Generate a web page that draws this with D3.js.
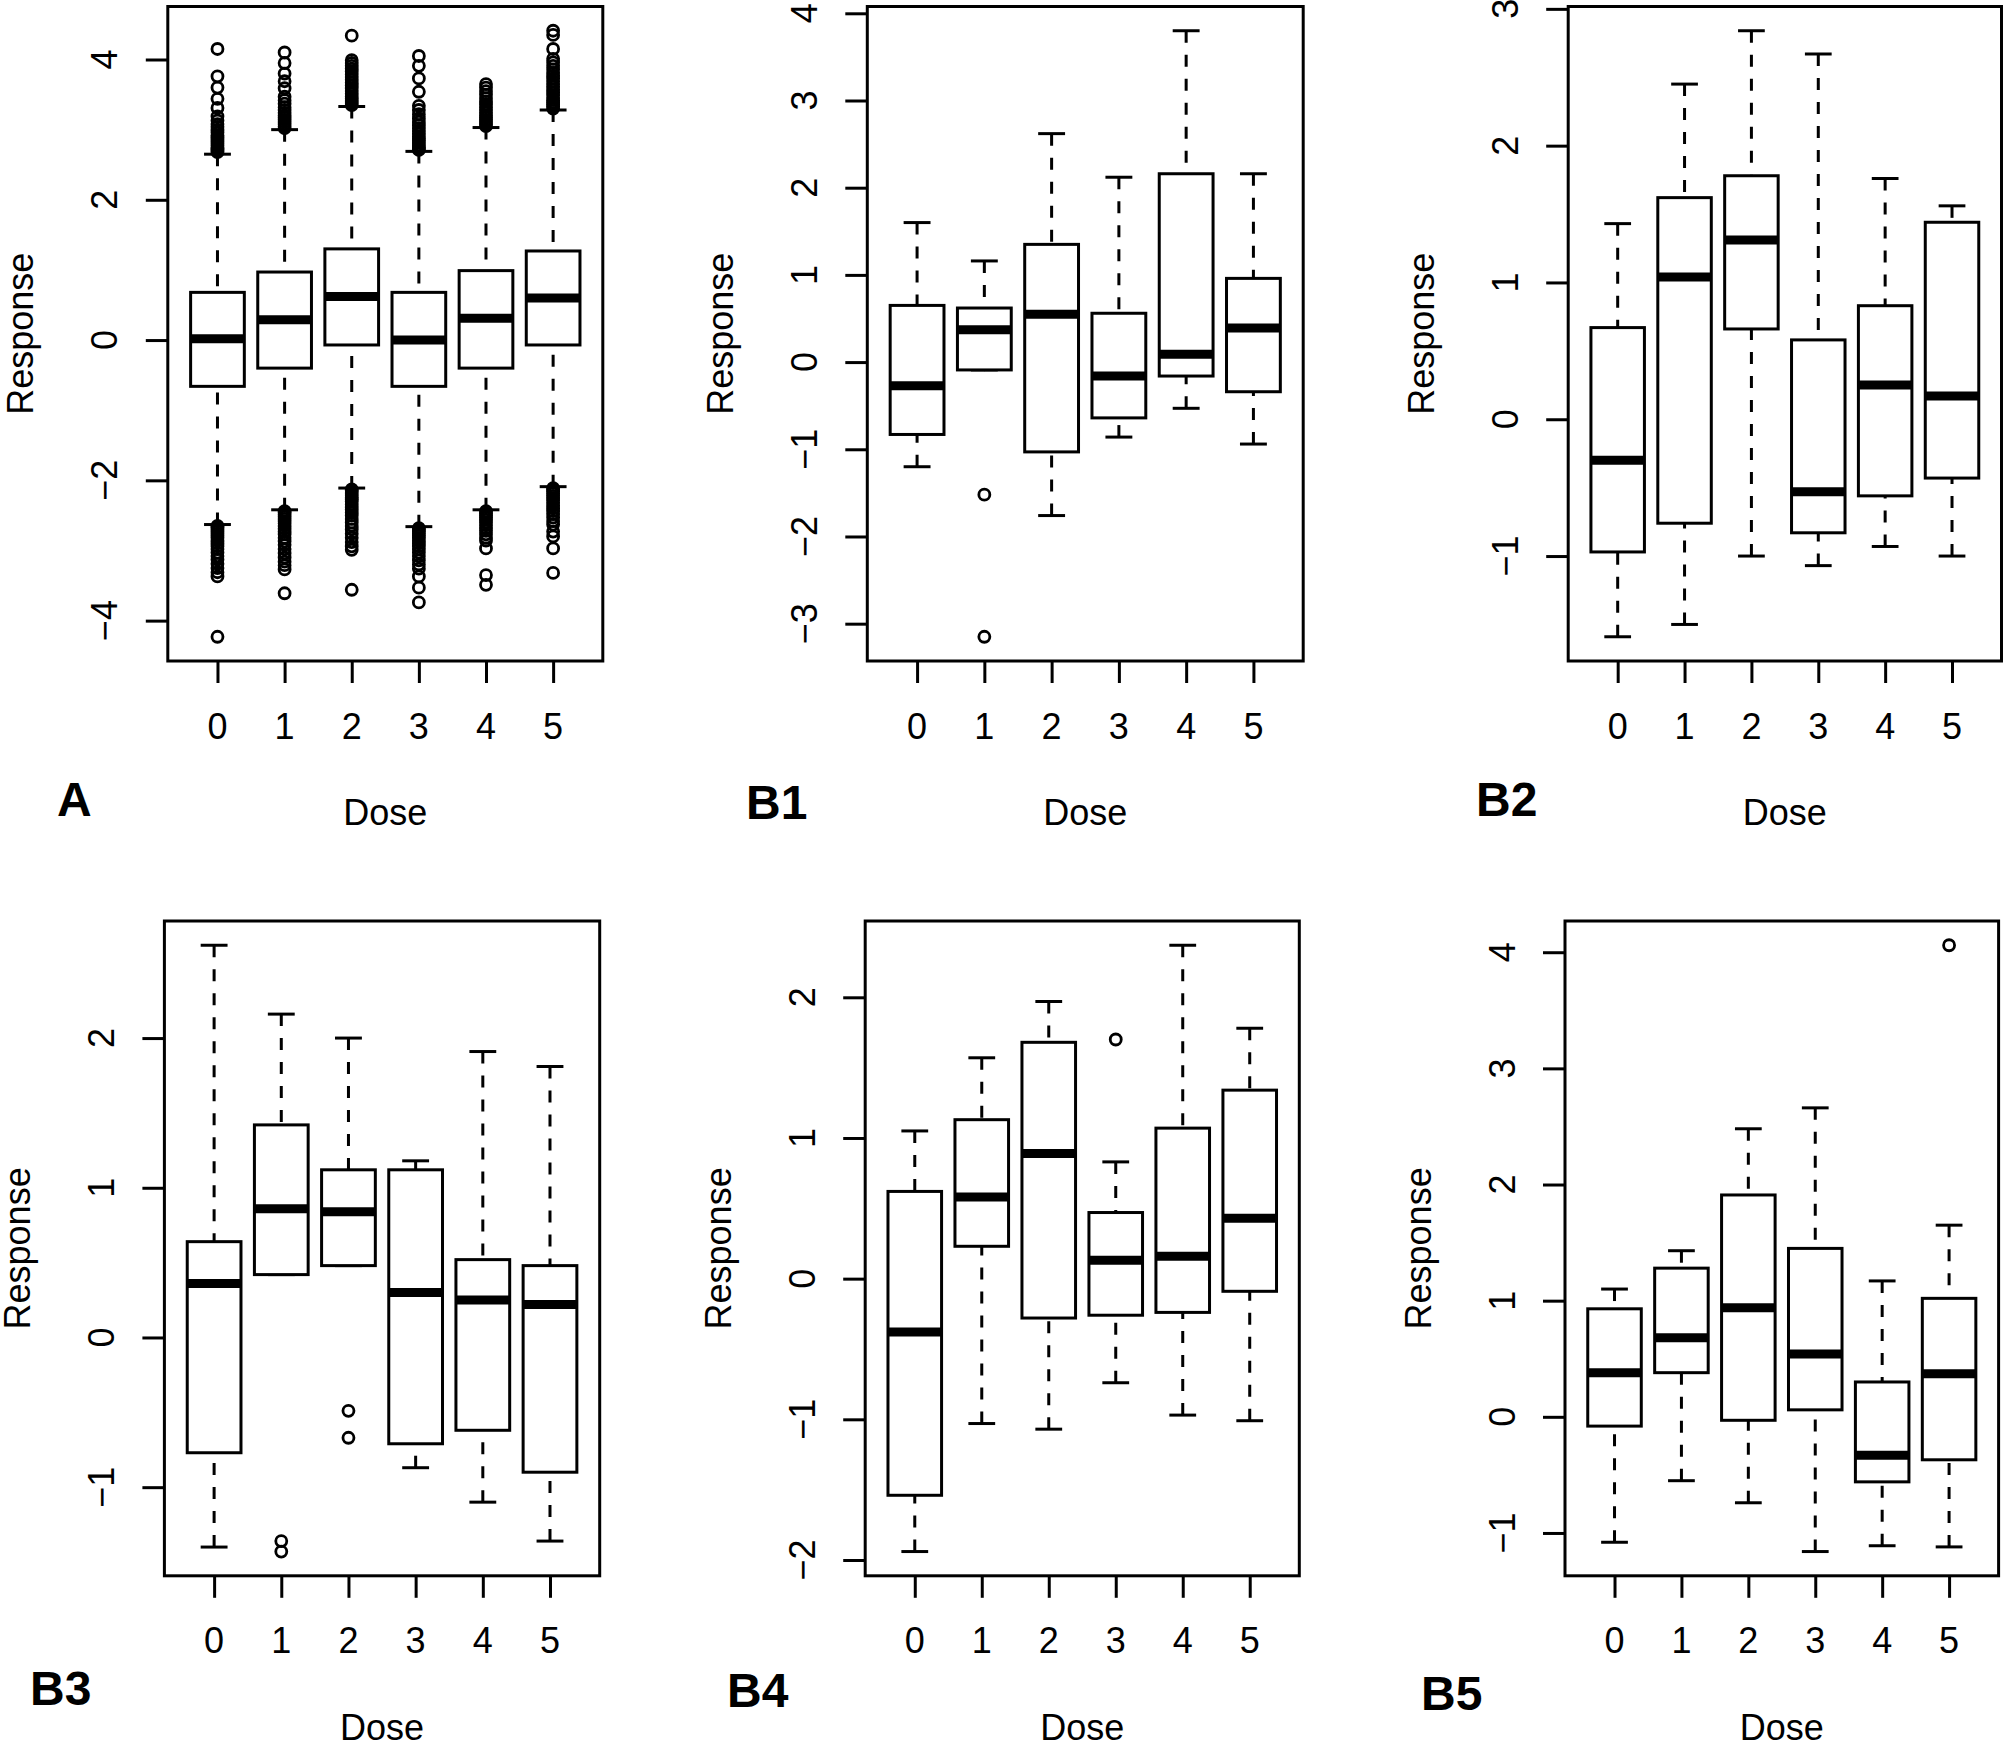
<!DOCTYPE html>
<html>
<head>
<meta charset="utf-8">
<script src="https://cdn.jsdelivr.net/npm/d3@7"></script>
<style>
  html, body { margin: 0; padding: 0; background: #fff; }
  svg { display: block; }
  text { font-family: "Liberation Sans", Arial, Helvetica, sans-serif; fill: #000; }
</style>
</head>
<body>
<svg id="chart" width="2004" height="1740"></svg>
<script>
// ---------------- DATA ----------------
const doses = ["0", "1", "2", "3", "4", "5"];

// Panel A
const A_lower  = [-2.63, -2.42, -2.11, -2.66, -2.42, -2.09];
const A_q1     = [-0.66, -0.40, -0.07, -0.66, -0.40, -0.07];
const A_median = [0.02, 0.29, 0.62, 0.00, 0.31, 0.60];
const A_q3     = [0.68, 0.97, 1.30, 0.68, 0.99, 1.27];
const A_upper  = [2.65, 3.00, 3.33, 2.69, 3.03, 3.28];
const A_out = [
  [2.68,2.70,2.72,2.74,2.77,2.80,2.83,2.86,2.89,2.92,2.96,3.00,3.04,3.08,3.13,3.19,3.31,3.44,3.60,3.76,4.15,
   -2.65,-2.67,-2.70,-2.73,-2.76,-2.79,-2.82,-2.86,-2.90,-2.94,-2.98,-3.03,-3.08,-3.13,-3.19,-3.25,-3.31,-3.37,-4.23],
  [3.02,3.05,3.08,3.11,3.14,3.17,3.20,3.24,3.28,3.32,3.37,3.42,3.47,3.59,3.69,3.80,3.95,4.10,
   -2.44,-2.46,-2.49,-2.52,-2.55,-2.58,-2.61,-2.65,-2.69,-2.73,-2.77,-2.82,-2.87,-2.92,-2.98,-3.04,-3.10,-3.16,-3.21,-3.27,-3.61],
  [3.35,3.38,3.41,3.44,3.47,3.51,3.55,3.59,3.63,3.67,3.71,3.75,3.79,3.83,3.87,3.91,3.95,3.99,4.34,
   -2.13,-2.15,-2.18,-2.21,-2.24,-2.27,-2.30,-2.34,-2.38,-2.42,-2.46,-2.50,-2.55,-2.60,-2.65,-2.70,-2.76,-2.82,-2.88,-2.94,-2.99,-3.56],
  [2.71,2.73,2.75,2.78,2.81,2.84,2.87,2.90,2.94,2.98,3.02,3.06,3.11,3.16,3.22,3.28,3.34,3.54,3.73,3.91,4.05,
   -2.68,-2.70,-2.73,-2.76,-2.79,-2.82,-2.86,-2.90,-2.94,-2.98,-3.03,-3.08,-3.14,-3.20,-3.26,-3.37,-3.53,-3.74],
  [3.05,3.08,3.11,3.14,3.17,3.20,3.24,3.28,3.32,3.36,3.40,3.45,3.50,3.55,3.60,3.65,
   -2.44,-2.47,-2.50,-2.53,-2.56,-2.60,-2.64,-2.68,-2.72,-2.77,-2.82,-2.86,-2.97,-3.35,-3.49],
  [3.30,3.33,3.36,3.39,3.42,3.45,3.49,3.53,3.57,3.61,3.65,3.69,3.73,3.77,3.81,3.86,3.91,3.96,4.01,4.15,4.35,4.41,
   -2.11,-2.13,-2.16,-2.19,-2.22,-2.25,-2.28,-2.32,-2.36,-2.40,-2.44,-2.48,-2.53,-2.58,-2.63,-2.73,-2.80,-2.97,-3.32]
];
const A_ticks = [-4, -2, 0, 2, 4];

// Panel B1
const B1_lower  = [-1.20, -0.09, -1.76, -0.86, -0.53, -0.94];
const B1_q1     = [-0.83, -0.09, -1.03, -0.64, -0.16, -0.34];
const B1_median = [-0.27, 0.37, 0.55, -0.16, 0.09, 0.39];
const B1_q3     = [0.65, 0.62, 1.35, 0.56, 2.16, 0.96];
const B1_upper  = [1.60, 1.16, 2.62, 2.12, 3.80, 2.16];
const B1_out    = [[], [-1.52, -3.15], [], [], [], []];
const B1_ticks  = [-3, -2, -1, 0, 1, 2, 3, 4];

// Panel B2
const B2_lower  = [-1.59, -1.50, -1.00, -1.07, -0.93, -1.00];
const B2_q1     = [-0.97, -0.76, 0.66, -0.83, -0.56, -0.43];
const B2_median = [-0.30, 1.04, 1.31, -0.53, 0.25, 0.17];
const B2_q3     = [0.67, 1.62, 1.78, 0.58, 0.83, 1.44];
const B2_upper  = [1.43, 2.45, 2.84, 2.67, 1.76, 1.56];
const B2_out    = [[], [], [], [], [], []];
const B2_ticks  = [-1, 0, 1, 2, 3];

// Panel B3
const B3_lower  = [-1.40, 0.42, 0.48, -0.87, -1.10, -1.36];
const B3_q1     = [-0.77, 0.42, 0.48, -0.71, -0.62, -0.90];
const B3_median = [0.36, 0.86, 0.84, 0.30, 0.25, 0.22];
const B3_q3     = [0.64, 1.42, 1.12, 1.12, 0.52, 0.48];
const B3_upper  = [2.62, 2.16, 2.00, 1.18, 1.91, 1.81];
const B3_out    = [[], [-1.36, -1.43], [-0.49, -0.67], [], [], []];
const B3_ticks  = [-1, 0, 1, 2];

// Panel B4
const B4_lower  = [-1.94, -1.03, -1.07, -0.74, -0.97, -1.01];
const B4_q1     = [-1.54, 0.23, -0.28, -0.26, -0.24, -0.09];
const B4_median = [-0.38, 0.58, 0.89, 0.13, 0.16, 0.43];
const B4_q3     = [0.62, 1.13, 1.68, 0.47, 1.07, 1.34];
const B4_upper  = [1.05, 1.57, 1.97, 0.83, 2.37, 1.78];
const B4_out    = [[], [], [], [1.70], [], []];
const B4_ticks  = [-2, -1, 0, 1, 2];

// Panel B5
const B5_lower  = [-1.08, -0.55, -0.74, -1.16, -1.11, -1.12];
const B5_q1     = [-0.08, 0.38, -0.03, 0.06, -0.56, -0.37];
const B5_median = [0.38, 0.68, 0.94, 0.54, -0.33, 0.37];
const B5_q3     = [0.93, 1.28, 1.91, 1.45, 0.30, 1.02];
const B5_upper  = [1.10, 1.43, 2.48, 2.66, 1.17, 1.65];
const B5_out    = [[], [], [], [], [], [4.06]];
const B5_ticks  = [-1, 0, 1, 2, 3, 4];

const panelLabels = ["A", "B1", "B2", "B3", "B4", "B5"];
const xTitle = "Dose";
const yTitle = "Response";

// ---------------- LAYOUT ----------------
const panels = [
  { label: panelLabels[0], lower: A_lower, q1: A_q1, med: A_median, q3: A_q3, upper: A_upper, out: A_out, ticks: A_ticks,
    box: { l: 167.8, r: 602.8, t: 6.5, b: 661 }, lab: { x: 57, y: 816 } },
  { label: panelLabels[1], lower: B1_lower, q1: B1_q1, med: B1_median, q3: B1_q3, upper: B1_upper, out: B1_out, ticks: B1_ticks,
    box: { l: 867.3, r: 1303.2, t: 6.5, b: 661 }, lab: { x: 746, y: 819 } },
  { label: panelLabels[2], lower: B2_lower, q1: B2_q1, med: B2_median, q3: B2_q3, upper: B2_upper, out: B2_out, ticks: B2_ticks,
    box: { l: 1568.2, r: 2001.5, t: 6.5, b: 661 }, lab: { x: 1476, y: 816 } },
  { label: panelLabels[3], lower: B3_lower, q1: B3_q1, med: B3_median, q3: B3_q3, upper: B3_upper, out: B3_out, ticks: B3_ticks,
    box: { l: 164.4, r: 599.7, t: 921, b: 1575.8 }, lab: { x: 30, y: 1705 } },
  { label: panelLabels[4], lower: B4_lower, q1: B4_q1, med: B4_median, q3: B4_q3, upper: B4_upper, out: B4_out, ticks: B4_ticks,
    box: { l: 865.2, r: 1299.3, t: 921, b: 1575.8 }, lab: { x: 727, y: 1707 } },
  { label: panelLabels[5], lower: B5_lower, q1: B5_q1, med: B5_median, q3: B5_q3, upper: B5_upper, out: B5_out, ticks: B5_ticks,
    box: { l: 1565, r: 1998.6, t: 921, b: 1575.8 }, lab: { x: 1421, y: 1710 } }
];

const FONT = 36, LABFONT = 48, TICKLEN = 22;
const LW = 3, MEDLW = 9, DASH = "12,12";
const svg = d3.select("#chart");
svg.append("rect").attr("width", 2004).attr("height", 1740).attr("fill", "#fff");

const fmt = v => (v < 0 ? "\u2212" + Math.abs(v) : String(v));

panels.forEach(p => {
  const g = svg.append("g");
  const allVals = [].concat(p.lower, p.upper, ...p.out);
  const [mn, mx] = d3.extent(allVals);
  const pad = (mx - mn) * 0.04;
  const y = d3.scaleLinear().domain([mn - pad, mx + pad]).range([p.box.b, p.box.t]);
  const x = d3.scaleLinear().domain([0.26, 6.74]).range([p.box.l, p.box.r]);
  const bw = x(1.4) - x(1);     // half box width (boxwex 0.8)
  const sw = x(1.2) - x(1);     // half staple width

  // axes (tick lines)
  const xAxis = d3.axisBottom(x).tickValues(doses.map((d, i) => i + 1)).tickSize(TICKLEN).tickSizeOuter(0).tickFormat("");
  const yAxis = d3.axisLeft(y).tickValues(p.ticks).tickSize(TICKLEN).tickSizeOuter(0).tickFormat("");
  const gx = g.append("g").attr("transform", `translate(0,${p.box.b})`).call(xAxis);
  const gy = g.append("g").attr("transform", `translate(${p.box.l},0)`).call(yAxis);
  [gx, gy].forEach(a => {
    a.select(".domain").remove();
    a.selectAll("line").attr("stroke", "#000").attr("stroke-width", LW);
  });

  // tick labels
  g.selectAll(".xl").data(doses).join("text")
    .attr("x", (d, i) => x(i + 1)).attr("y", p.box.b + 77.5)
    .attr("text-anchor", "middle").attr("font-size", FONT).text(d => d);
  g.selectAll(".yl").data(p.ticks).join("text")
    .attr("transform", d => `translate(${p.box.l - 50.5},${y(d)}) rotate(-90)`)
    .attr("text-anchor", "middle").attr("font-size", FONT).text(d => fmt(d));

  // titles
  g.append("text").attr("x", (p.box.l + p.box.r) / 2).attr("y", p.box.b + 164)
    .attr("text-anchor", "middle").attr("font-size", FONT).text(xTitle);
  g.append("text")
    .attr("transform", `translate(${p.box.l - 134.5},${(p.box.t + p.box.b) / 2}) rotate(-90)`)
    .attr("text-anchor", "middle").attr("font-size", FONT).text(yTitle);
  g.append("text").attr("x", p.lab.x).attr("y", p.lab.y)
    .attr("font-size", LABFONT).attr("font-weight", "bold").text(p.label);

  // boxplots
  doses.forEach((d, i) => {
    const cx = x(i + 1);
    // whiskers (drawn from whisker end toward box)
    g.append("line").attr("x1", cx).attr("x2", cx).attr("y1", y(p.lower[i])).attr("y2", y(p.q1[i]))
      .attr("stroke", "#000").attr("stroke-width", LW).attr("stroke-dasharray", DASH);
    g.append("line").attr("x1", cx).attr("x2", cx).attr("y1", y(p.upper[i])).attr("y2", y(p.q3[i]))
      .attr("stroke", "#000").attr("stroke-width", LW).attr("stroke-dasharray", DASH);
    // staples
    [p.lower[i], p.upper[i]].forEach(v => {
      g.append("line").attr("x1", cx - sw).attr("x2", cx + sw).attr("y1", y(v)).attr("y2", y(v))
        .attr("stroke", "#000").attr("stroke-width", LW);
    });
    // box
    g.append("rect").attr("x", cx - bw).attr("width", 2 * bw)
      .attr("y", y(p.q3[i])).attr("height", y(p.q1[i]) - y(p.q3[i]))
      .attr("fill", "#fff").attr("stroke", "#000").attr("stroke-width", LW);
    // median
    g.append("line").attr("x1", cx - bw).attr("x2", cx + bw).attr("y1", y(p.med[i])).attr("y2", y(p.med[i]))
      .attr("stroke", "#000").attr("stroke-width", MEDLW);
    // outliers
    g.selectAll(null).data(p.out[i]).join("circle")
      .attr("cx", cx).attr("cy", v => y(v)).attr("r", 5.5)
      .attr("fill", "none").attr("stroke", "#000").attr("stroke-width", 2.8);
  });

  // frame
  g.append("rect").attr("x", p.box.l).attr("y", p.box.t)
    .attr("width", p.box.r - p.box.l).attr("height", p.box.b - p.box.t)
    .attr("fill", "none").attr("stroke", "#000").attr("stroke-width", LW);
});
</script>
</body>
</html>
